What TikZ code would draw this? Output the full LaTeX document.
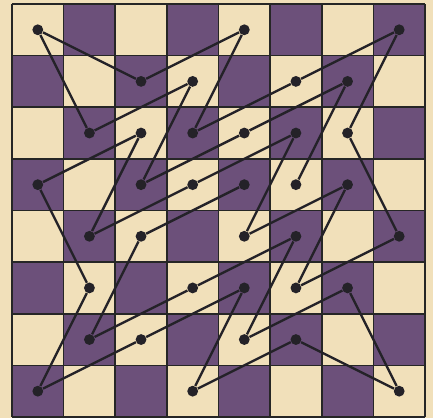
\documentclass[tikz,border=0pt]{standalone}
\definecolor{papel}{RGB}{241,224,186}
\definecolor{morado}{RGB}{108,80,122}
\definecolor{tinta}{RGB}{36,34,40}
\begin{document}
\begin{tikzpicture}[
        casilla/.style={draw=black!85, line width=0.9pt},
        punto/.style={circle, fill=tinta, inner sep=0pt, minimum size=0.21cm},
        salto/.style={draw=tinta, line width=1.3pt, line join=round}
    ]
    \useasboundingbox[fill=papel] (-0.232,-0.019) rectangle (8.155,8.077);
    % Tablero
    \foreach \f in {1,...,8}
      \foreach \r in {1,...,8} {
        \pgfmathtruncatemacro\paridad{mod(\f+\r,2)}
        \ifnum\paridad=0 \fill[morado] (\f-1,\r-1) rectangle (\f,\r); \fi
      }
    \draw[casilla] (0,0) grid (8,8);
    % Casillas visitadas
    \node[punto] (a8) at (0.5,7.5) {};
    \node[punto] (e8) at (4.5,7.5) {};
    \node[punto] (h8) at (7.5,7.5) {};
    \node[punto] (c7) at (2.5,6.5) {};
    \node[punto] (d7) at (3.5,6.5) {};
    \node[punto] (f7) at (5.5,6.5) {};
    \node[punto] (g7) at (6.5,6.5) {};
    \node[punto] (b6) at (1.5,5.5) {};
    \node[punto] (c6) at (2.5,5.5) {};
    \node[punto] (d6) at (3.5,5.5) {};
    \node[punto] (e6) at (4.5,5.5) {};
    \node[punto] (f6) at (5.5,5.5) {};
    \node[punto] (g6) at (6.5,5.5) {};
    \node[punto] (a5) at (0.5,4.5) {};
    \node[punto] (c5) at (2.5,4.5) {};
    \node[punto] (d5) at (3.5,4.5) {};
    \node[punto] (e5) at (4.5,4.5) {};
    \node[punto] (f5) at (5.5,4.5) {};
    \node[punto] (g5) at (6.5,4.5) {};
    \node[punto] (b4) at (1.5,3.5) {};
    \node[punto] (c4) at (2.5,3.5) {};
    \node[punto] (e4) at (4.5,3.5) {};
    \node[punto] (f4) at (5.5,3.5) {};
    \node[punto] (h4) at (7.5,3.5) {};
    \node[punto] (b3) at (1.5,2.5) {};
    \node[punto] (d3) at (3.5,2.5) {};
    \node[punto] (e3) at (4.5,2.5) {};
    \node[punto] (f3) at (5.5,2.5) {};
    \node[punto] (g3) at (6.5,2.5) {};
    \node[punto] (b2) at (1.5,1.5) {};
    \node[punto] (c2) at (2.5,1.5) {};
    \node[punto] (e2) at (4.5,1.5) {};
    \node[punto] (f2) at (5.5,1.5) {};
    \node[punto] (a1) at (0.5,0.5) {};
    \node[punto] (d1) at (3.5,0.5) {};
    \node[punto] (h1) at (7.5,0.5) {};
    % Recorrido del caballo
    \draw[salto] (e5) -- (c4) -- (b2) -- (d3) -- (f4) -- (e2) -- (g3) -- (h1)
        -- (f2) -- (d1) -- (e3) -- (c2) -- (a1) -- (b3) -- (a5) -- (c6)
        -- (b4) -- (d5) -- (f6) -- (e4) -- (g5) -- (f3) -- (h4) -- (g6)
        -- (h8) -- (f7) -- (d6) -- (e8) -- (c7) -- (a8) -- (b6) -- (d7)
        -- (c5) -- (e6) -- (g7) -- (f5);
\end{tikzpicture}
\end{document}
